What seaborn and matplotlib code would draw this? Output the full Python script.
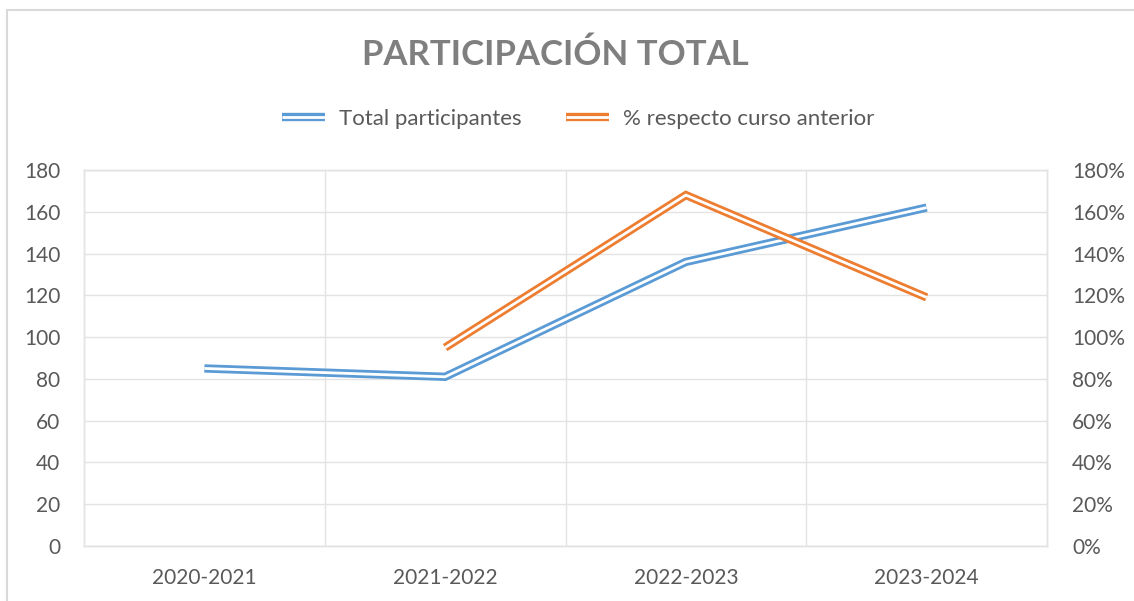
import matplotlib
matplotlib.use("Agg")
import matplotlib.pyplot as plt
import matplotlib.patheffects as pe
from matplotlib.lines import Line2D
from matplotlib.ticker import FuncFormatter, MultipleLocator
import seaborn as sns
import pandas as pd

categories = ["2020-2021", "2021-2022", "2022-2023", "2023-2024"]
total_participantes = [85, 81, 136, 162]
pct_respecto = [None, 0.95, 1.68, 1.19]

BLUE = "#5B9BD5"
ORANGE = "#ED7D31"
GRID = "#E3E3E3"
TXT = "#595959"

sns.set_theme(style="white")
plt.rcParams["font.family"] = ["Lato", "DejaVu Sans"]

fig = plt.figure(figsize=(11.34, 6.01), dpi=100)
ax = fig.add_axes([84/1134, 1-546/601, (1047-84)/1134, (546-170)/601])
ax2 = ax.twinx()

df1 = pd.DataFrame({"x": range(len(categories)), "y": total_participantes})
df2 = pd.DataFrame({"x": range(len(categories)), "y": pct_respecto}).dropna()

def dbl(color):
    return [pe.Stroke(linewidth=6.0, foreground=color, capstyle="butt", joinstyle="miter"),
            pe.Stroke(linewidth=2.0, foreground="white", capstyle="butt", joinstyle="miter")]

sns.lineplot(data=df1, x="x", y="y", ax=ax, color=BLUE, linewidth=6, legend=False)
sns.lineplot(data=df2, x="x", y="y", ax=ax2, color=ORANGE, linewidth=6, legend=False)
for l in ax.lines:
    l.set_path_effects(dbl(BLUE))
for l in ax2.lines:
    l.set_path_effects(dbl(ORANGE))

ax.set_xlim(-0.5, 3.5)
ax.set_ylim(0, 180)
ax2.set_ylim(0, 1.8)
ax.yaxis.set_major_locator(MultipleLocator(20))
ax2.yaxis.set_major_locator(MultipleLocator(0.2))
ax2.yaxis.set_major_formatter(FuncFormatter(lambda v, p: f"{v*100:.0f}%"))
ax.set_xticks(range(len(categories)))
ax.set_xticklabels(categories)
ax.set_xticks([0.5, 1.5, 2.5], minor=True)
ax.grid(True, axis="y", which="major", color=GRID, linewidth=1.0)
ax.grid(True, axis="x", which="minor", color=GRID, linewidth=1.0)
ax.grid(False, axis="x", which="major")
ax.set_axisbelow(True)
for a in (ax, ax2):
    a.set_xlabel("")
    a.set_ylabel("")
    for s in a.spines.values():
        s.set_color(GRID)
        s.set_linewidth(1.0)
    a.tick_params(which="both", length=0, labelsize=15, labelcolor=TXT)
ax.tick_params(axis="y", pad=17)
ax2.tick_params(axis="y", pad=18)
ax.tick_params(axis="x", pad=16)

fig.text(555/1134, 1-55/601, "PARTICIPACIÓN TOTAL", ha="center", va="center",
         fontsize=25, fontweight="bold", color="#7F7F7F")

handles = [Line2D([0], [0], color=BLUE, lw=6, path_effects=dbl(BLUE)),
           Line2D([0], [0], color=ORANGE, lw=6, path_effects=dbl(ORANGE))]
fig.legend(handles, ["Total participantes", "% respecto curso anterior"],
           loc="center", bbox_to_anchor=(578/1134, 1-119/601), ncol=2, frameon=False,
           fontsize=16, labelcolor=TXT, handlelength=1.95, columnspacing=2.0, handletextpad=0.6)

fig.add_artist(Line2D([7/1134, 1.0], [1-10/601, 1-10/601], transform=fig.transFigure, color="#D9D9D9", lw=1.5))
fig.add_artist(Line2D([7/1134, 7/1134], [0, 1-10/601], transform=fig.transFigure, color="#D9D9D9", lw=1.5))

fig.savefig("out.png", dpi=100, facecolor="white")
